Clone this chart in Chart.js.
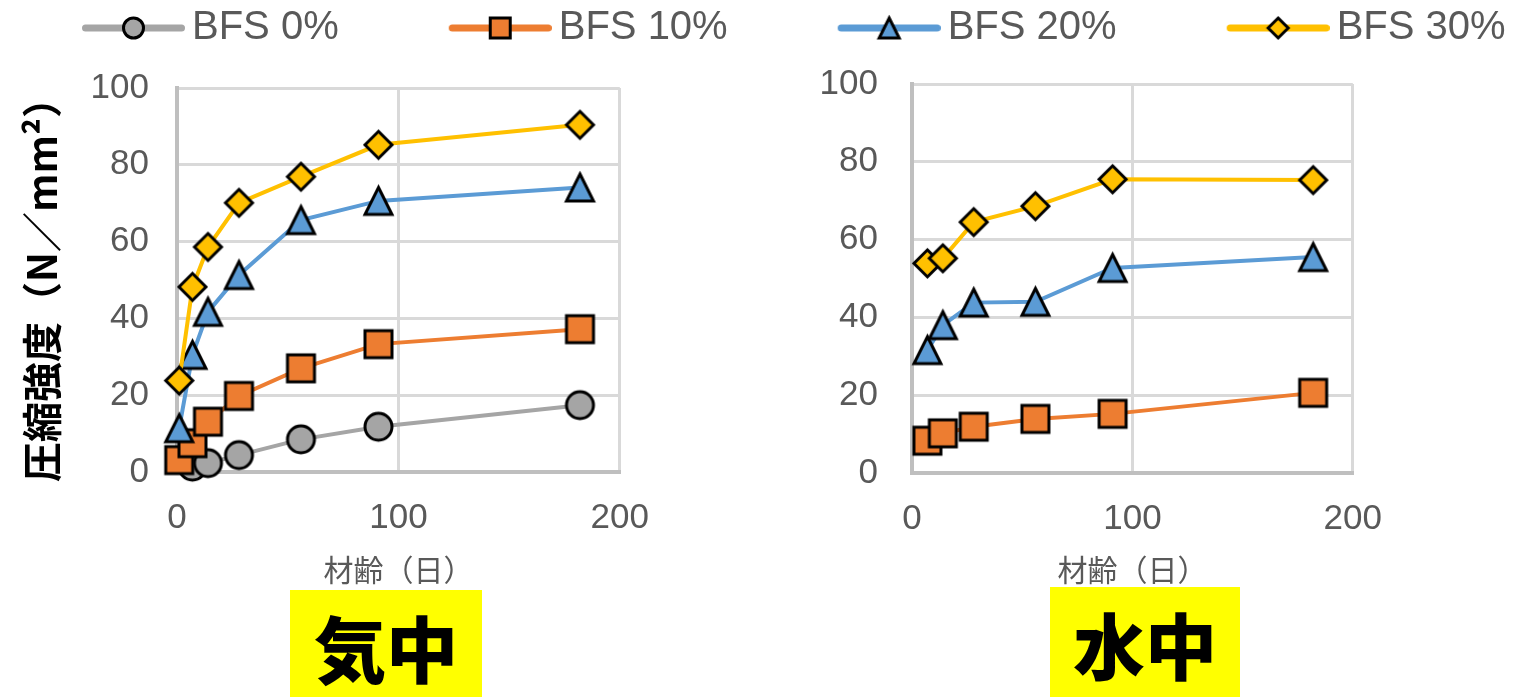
<!DOCTYPE html>
<html>
<head>
<meta charset="utf-8">
<script src="https://cdn.jsdelivr.net/npm/chart.js@4.4.0/dist/chart.umd.min.js"></script>
<style>
  body { margin: 0; background: #fff; width: 1518px; height: 697px; overflow: hidden; position: relative; }
  canvas { position: absolute; }
  .tag { position: absolute; background: #ffff00; color: #000; font-family: "Noto Sans CJK JP", sans-serif;
         font-weight: 900; font-size: 72px; text-align: center; }
</style>
</head>
<body>
<canvas id="legendChart" width="1560" height="130" style="left:-28px;top:-2px"></canvas>
<canvas id="airChart" width="674" height="561" style="left:0;top:39px"></canvas>
<canvas id="waterChart" width="707" height="571" style="left:700px;top:29px"></canvas>
<div class="tag" style="left:290px;top:590px;width:192px;height:107px;line-height:112px">気中</div>
<div class="tag" style="left:1050px;top:587px;width:190px;height:110px;line-height:112px">水中</div>
<script>
// series names and colours
var seriesNames = ["BFS 0%", "BFS 10%", "BFS 20%", "BFS 30%"];
var seriesColors = ["#A5A5A5", "#ED7D31", "#5B9BD5", "#FFC000"];
var seriesShapes = ["circle", "square", "triangle", "diamond"];

// age in days
var airDays0 = [7, 14, 28, 56, 91, 182];
var airDays = [1, 7, 14, 28, 56, 91, 182];
var waterDays = [7, 14, 28, 56, 91, 182];

// compressive strength, cured in air (気中)
var air0 = [1.4, 2.3, 4.4, 8.5, 11.8, 17.4];
var air10 = [3.1, 7.5, 13.1, 19.8, 27.0, 33.3, 37.2];
var air20 = [11.4, 30.5, 41.7, 51.3, 65.6, 70.6, 74.1];
var air30 = [23.8, 48.2, 58.6, 70.1, 76.9, 85.2, 90.4];

// compressive strength, cured in water (水中)
var water10 = [8.3, 10.2, 11.9, 13.9, 15.2, 20.6];
var water20 = [31.6, 38.0, 43.8, 44.0, 52.7, 55.5];
var water30 = [53.9, 55.2, 64.5, 68.6, 75.5, 75.3];

var xTicks = [0, 100, 200];
var yTicks = [0, 20, 40, 60, 80, 100];

var tickFont = { family: "'Liberation Sans', Arial, sans-serif", size: 35 };
var jpFont = "'Noto Sans CJK JP', sans-serif";

function shapePath(g, shape, m, n, h) {
  g.beginPath();
  if (shape == "circle") g.arc(m, n, h, 0, Math.PI * 2);
  else if (shape == "square") g.rect(m - h, n - h, h * 2, h * 2);
  else if (shape == "triangle") { g.moveTo(m, n - h); g.lineTo(m + h, n + h); g.lineTo(m - h, n + h); g.closePath(); }
  else { g.moveTo(m, n - h); g.lineTo(m + h, n); g.lineTo(m, n + h); g.lineTo(m - h, n); g.closePath(); }
}

function makeMarker(shape, size, fill) {
  var c = document.createElement("canvas");
  c.width = size + 14; c.height = size + 14;
  var g = c.getContext("2d");
  shapePath(g, shape, c.width / 2, c.height / 2, size / 2);
  g.fillStyle = fill; g.fill();
  g.lineWidth = 3; g.strokeStyle = "#000"; g.stroke();
  return c;
}

// legend icon: transparent left margin, then line with the marker in the middle
function makeLegendIcon(shape, fill) {
  var c = document.createElement("canvas");
  c.width = 216; c.height = 34;
  var g = c.getContext("2d");
  g.strokeStyle = fill; g.lineWidth = 7; g.lineCap = "round";
  g.beginPath(); g.moveTo(116.5, 17); g.lineTo(212.5, 17); g.stroke();
  shapePath(g, shape, 164.5, 17, 10);
  g.fillStyle = fill; g.fill();
  g.lineWidth = 3; g.strokeStyle = "#000"; g.stroke();
  return c;
}

function toPoints(days, vals) {
  return vals.map((v, i) => ({ x: days[i], y: v }));
}

function makeDataset(idx, days, vals) {
  return {
    label: seriesNames[idx],
    data: toPoints(days, vals),
    borderColor: seriesColors[idx],
    backgroundColor: seriesColors[idx],
    borderWidth: 4,
    pointStyle: makeMarker(seriesShapes[idx], 27, seriesColors[idx]),
    pointRadius: 15,
    pointHoverRadius: 15,
    clip: false,
    order: 4 - idx
  };
}

// the scales add (half label size + tick padding) around the plot,
// so the canvases are sized and shifted to put the plot edges where they belong
function chartOptions(yWidth, xHeight, yTitle, yPad) {
  return {
    responsive: false,
    animation: false,
    layout: { padding: 0 },
    plugins: { legend: { display: false }, tooltip: { enabled: false } },
    scales: {
      x: {
        type: "linear", min: 0, max: 200,
        afterBuildTicks: s => { s.ticks = xTicks.map(v => ({ value: v })); },
        afterFit: s => { s.height = xHeight; },
        grid: { color: "#d9d9d9", lineWidth: 3, drawTicks: false },
        border: { color: "#bfbfbf", width: 4 },
        ticks: { color: "#595959", font: tickFont, padding: 25, maxRotation: 0 },
        title: { display: true, text: "材齢（日）", color: "#595959",
                 font: { family: jpFont, size: 30 }, padding: { top: 0, bottom: 12 } }
      },
      y: {
        min: 0, max: 100,
        afterBuildTicks: s => { s.ticks = yTicks.map(v => ({ value: v })); },
        afterFit: s => { s.width = yWidth; },
        grid: { color: "#d9d9d9", lineWidth: 3, drawTicks: false },
        border: { color: "#bfbfbf", width: 4 },
        ticks: { color: "#595959", font: tickFont, padding: yPad },
        title: { display: !!yTitle, text: yTitle, color: "#000",
                 font: { family: jpFont, size: 40, weight: "bold" }, padding: { top: 18, bottom: 0 } }
      }
    }
  };
}

new Chart(document.getElementById("airChart"), {
  type: "line",
  data: {
    datasets: [
      makeDataset(0, airDays0, air0),
      makeDataset(1, airDays, air10),
      makeDataset(2, airDays, air20),
      makeDataset(3, airDays, air30)
    ]
  },
  options: chartOptions(177, 128, "圧縮強度（N／mm²）", 28)
});

new Chart(document.getElementById("waterChart"), {
  type: "line",
  data: {
    datasets: [
      makeDataset(1, waterDays, water10),
      makeDataset(2, waterDays, water20),
      makeDataset(3, waterDays, water30)
    ]
  },
  options: chartOptions(212, 127, "", 34)
});

// legend-only chart across the top
var legendIcons = seriesNames.map((n, i) => makeLegendIcon(seriesShapes[i], seriesColors[i]));
new Chart(document.getElementById("legendChart"), {
  type: "line",
  data: { datasets: seriesNames.map(n => ({ label: n, data: [] })) },
  options: {
    responsive: false,
    animation: false,
    layout: { padding: 0 },
    scales: { x: { display: false }, y: { display: false } },
    plugins: {
      tooltip: { enabled: false },
      legend: {
        display: true,
        align: "start",
        labels: {
          usePointStyle: true,
          pointStyleWidth: 190,
          padding: 10,
          color: "#595959",
          font: { family: "'Liberation Sans', Arial, sans-serif", size: 40 },
          generateLabels: chart => seriesNames.map((n, i) => ({
            text: n, pointStyle: legendIcons[i], fillStyle: seriesColors[i],
            strokeStyle: seriesColors[i], lineWidth: 0, hidden: false,
            datasetIndex: i, fontColor: "#595959"
          }))
        }
      }
    }
  }
});
</script>
</body>
</html>
